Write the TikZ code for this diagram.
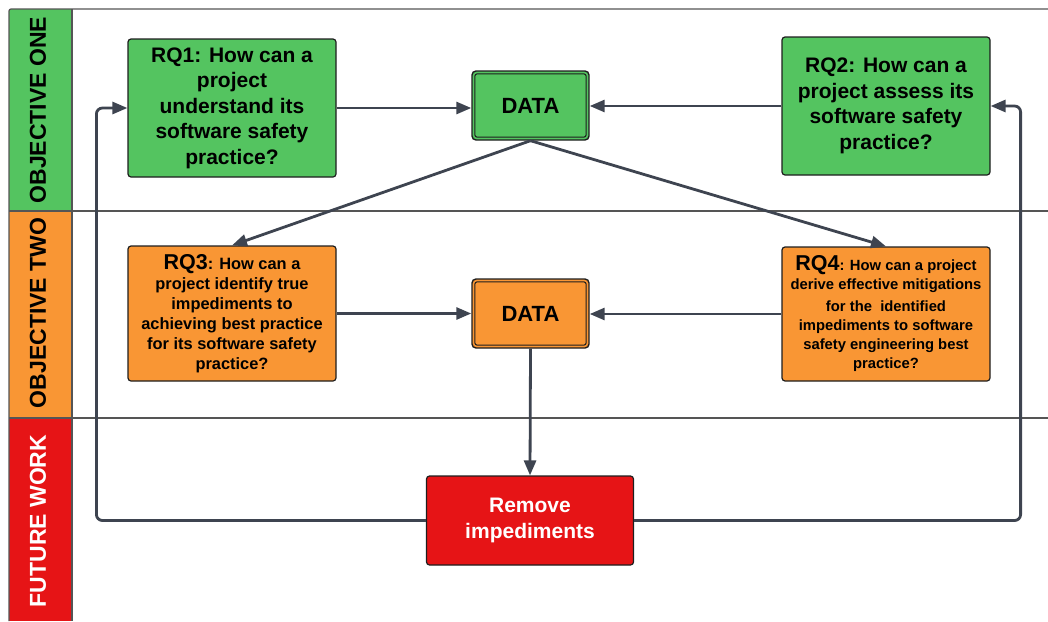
\documentclass[tikz,border=0pt]{standalone}
\usepackage{fontspec}
\setmainfont{Liberation Sans}
\usetikzlibrary{arrows.meta}
\definecolor{laneGreen}{RGB}{84,196,96}
\definecolor{laneOrange}{RGB}{249,150,52}
\definecolor{laneRed}{RGB}{230,20,22}
\definecolor{wire}{RGB}{62,68,80}
\definecolor{rulegray}{RGB}{85,85,85}
\definecolor{edge}{RGB}{30,30,30}

\begin{document}
\begin{tikzpicture}[x=1pt,y=-1pt,
  laneline/.style={draw=rulegray, line width=1.2pt},
  lanetext/.style={rotate=90, inner sep=0pt, font=\fontsize{23}{27}\selectfont\bfseries},
  rqbox/.style={draw=edge, line width=1.2pt, rounded corners=3pt, align=center,
    inner sep=0pt, minimum width=208pt},
  bigq/.style={font=\fontsize{21}{25.5}\selectfont\bfseries},
  smallq/.style={font=\fontsize{16.4}{20}\selectfont\bfseries},
  tinyq/.style={font=\fontsize{14.8}{19}\selectfont\bfseries},
  databox/.style={draw=edge, line width=1.4pt, rounded corners=4pt, minimum width=117pt,
    minimum height=69pt, inner sep=0pt, font=\fontsize{22}{26}\selectfont\bfseries},
  datainner/.style={draw=edge, line width=1pt, rounded corners=2.5pt},
  flow/.style={draw=wire, line width=2.8pt, -{Triangle[length=15pt,width=12pt]},
    rounded corners=6pt},
]
\useasboundingbox (0,0) rectangle (1048,621);

% swimlane header column
\fill[laneGreen]  (9,9)   rectangle (72,211);
\fill[laneOrange] (9,211) rectangle (72,418);
\fill[laneRed]    (9,418) rectangle (72,621);
\draw[laneline, rounded corners=2pt] (9,621) -- (9,9) -- (1048,9);
\draw[laneline] (72,9) -- (72,621);
\draw[laneline] (9,211) -- (1048,211);
\draw[laneline] (9,418) -- (1048,418);

\node[lanetext] (laneA) at (38,110) {OBJECTIVE ONE};
\node[lanetext] (laneB) at (38,313) {OBJECTIVE TWO};
\node[lanetext, text=white] (laneC) at (38,521) {FUTURE WORK};

% research questions
\node[rqbox, fill=laneGreen, minimum height=138pt, bigq] (rq1) at (232,108)
  {RQ1: How can a\\project\\understand its\\software safety\\practice?};
\node[rqbox, fill=laneGreen, minimum height=138pt, bigq] (rq2) at (886,106)
  {RQ2: How can a\\project assess its\\software safety\\practice?};
\node[rqbox, fill=laneOrange, minimum height=135pt, smallq] (rq3) at (232,313.5)
  {{\fontsize{21.5}{22}\selectfont RQ3}: How can a\\project identify true\\impediments to\\achieving best practice\\for its software safety\\practice?};
\node[rqbox, fill=laneOrange, minimum height=134pt, tinyq] (rq4) at (886,314)
  {{\fontsize{21.5}{22}\selectfont RQ4}: How can a project\\derive effective mitigations\\[3pt]for the~~identified\\impediments to software\\safety engineering best\\practice?};

% data stores
\node[databox, fill=laneGreen] (d1) at (530.5,105.5) {DATA};
\draw[datainner] ([shift={(3.5,3.5)}]d1.north west) rectangle ([shift={(-3.5,-3.5)}]d1.south east);
\node[databox, fill=laneOrange] (d2) at (530.5,313.5) {DATA};
\draw[datainner] ([shift={(3.5,3.5)}]d2.north west) rectangle ([shift={(-3.5,-3.5)}]d2.south east);

% future work
\node[rqbox, fill=laneRed, text=white, minimum width=207pt, minimum height=89pt, bigq]
  (rem) at (530,520.5) {Remove\\impediments};

% connectors
\draw[flow] (rq1.east) -- (d1.west |- rq1.east);
\draw[flow] (rq2.west) -- (d1.east |- rq2.west);
\draw[flow] (d1.south) -- (rq3.north);
\draw[flow] (d1.south) -- (rq4.north);
\draw[flow] (rq3.east) -- (d2.west |- rq3.east);
\draw[flow] (rq4.west) -- (d2.east |- rq4.west);
\draw[flow] (d2.south) -- (rem.north);
\draw[flow] (rem.west) -| ([xshift=-31pt]rq1.west) -- (rq1.west);
\draw[flow] (rem.east) -| ([xshift=30pt]rq2.east) -- (rq2.east);
\end{tikzpicture}
\end{document}
